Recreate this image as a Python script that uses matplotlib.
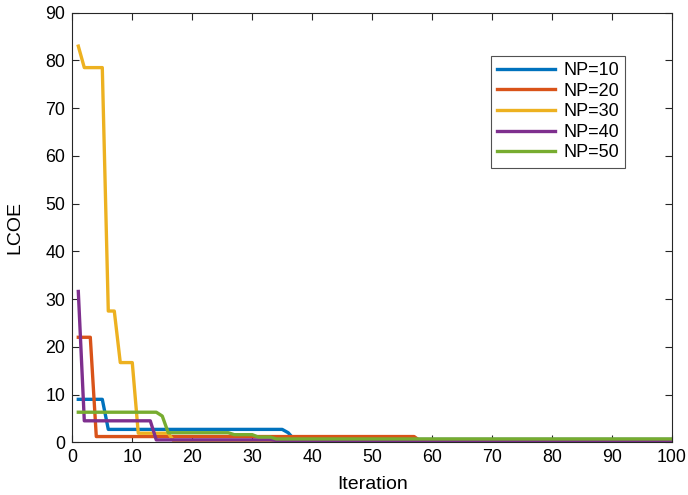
import matplotlib
matplotlib.use("Agg")
import matplotlib.pyplot as plt
import numpy as np

plt.rcParams['font.family'] = ['Liberation Sans', 'DejaVu Sans']

iterations = np.arange(1, 101)

def steps(segments):
    vals = []
    for n, v in segments:
        vals += [v] * n
    return np.array(vals)

np10 = steps([(5, 9.0), (30, 2.7), (1, 2.0), (64, 0.6)])
np20 = steps([(3, 22.0), (54, 1.2), (43, 0.3)])
np30 = steps([(1, 83.0), (4, 78.5), (2, 27.5), (3, 16.7), (6, 1.9), (84, 0.12)])
np40 = steps([(1, 31.6), (12, 4.5), (20, 0.5), (67, 0.4)])
np50 = steps([(14, 6.3), (1, 5.5), (11, 2.0), (4, 1.6), (3, 1.1), (67, 0.7)])

labels = ['NP=10', 'NP=20', 'NP=30', 'NP=40', 'NP=50']
series = [np10, np20, np30, np40, np50]
colors = ['#0072BD', '#D95319', '#EDB120', '#7E2F8E', '#77AC30']

xticks = list(range(0, 101, 10))
yticks = list(range(0, 91, 10))

fig = plt.figure(figsize=(6.88, 4.95), dpi=100)
ax = fig.add_axes([0.1051, 0.1065, 0.9767 - 0.1051, 0.9743 - 0.1065])

for y, c, lab in zip(series, colors, labels):
    ax.plot(iterations, y, color=c, lw=2.4, label=lab)

ax.set_xlim(0, 100)
ax.set_ylim(0, 90)
ax.set_xticks(xticks)
ax.set_yticks(yticks)
ax.tick_params(direction='in', length=4.8, width=0.8, top=True, right=True,
               labelsize=12.8, color='#262626', labelcolor='#000000', pad=5)
for s in ax.spines.values():
    s.set_linewidth(0.8)
    s.set_color('#262626')
ax.set_xlabel('Iteration', fontsize=14, labelpad=7)
ax.set_ylabel('LCOE', fontsize=14, labelpad=16)

leg = ax.legend(loc='upper right', bbox_to_anchor=(0.922, 0.900), fontsize=13,
                frameon=True, fancybox=False, edgecolor='#262626',
                handlelength=3.2, handletextpad=0.45, labelspacing=0.2,
                borderpad=0.35, borderaxespad=0)
leg.get_frame().set_linewidth(0.8)

fig.savefig('out.png', dpi=100)
